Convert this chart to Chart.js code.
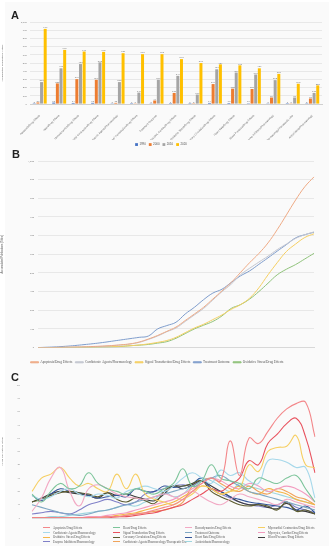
<!DOCTYPE html>
<html>
<head>
<meta charset="utf-8">
<script src="https://cdn.jsdelivr.net/npm/chart.js@4.4.1/dist/chart.umd.min.js"></script>
<style>
  body { margin: 0; background: #fff; width: 334px; height: 550px; position: relative; overflow: hidden; }
  canvas { position: absolute; left: 0; }
  .tag { position: absolute; font: bold 11px "Liberation Sans", Arial, sans-serif; color: #222; }
  #legendC { position: absolute; left: 43px; top: 527px; width: 290px; display: grid;
             grid-template-columns: 70px 72px 73px 75px; row-gap: 1.4px;
             font: 3.1px "Liberation Serif", "Times New Roman", serif; color: #555; }
  #legendC div { white-space: nowrap; line-height: 3.2px; }
  #legendC i { display: inline-block; width: 7px; height: 1px; margin: 0 3px 0.8px 0; vertical-align: middle; }
</style>
</head>
<body>
<canvas id="chartA" style="top:0px"></canvas>
<canvas id="chartB" style="top:152px"></canvas>
<canvas id="chartC" style="top:370px"></canvas>
<div id="legendC"></div>
<div class="tag" style="left:11px;top:9px">A</div>
<div class="tag" style="left:12px;top:148px">B</div>
<div class="tag" style="left:11px;top:371px">C</div>
<script>
// topics (same order in panel A and panel C)
var topics = [
    "Apoptosis/Drug Effects",
    "Heart/Drug Effects",
    "Hemodynamics/Drug Effects",
    "Myocardial Contraction/Drug Effects",
    "Cardiotonic Agents/Pharmacology",
    "Signal Transduction/Drug Effects",
    "Treatment Outcome",
    "Myocytes, Cardiac/Drug Effects",
    "Oxidative Stress/Drug Effects",
    "Coronary Circulation/Drug Effects",
    "Heart Rate/Drug Effects",
    "Blood Pressure/Drug Effects",
    "Enzyme Inhibitors/Pharmacology",
    "Cardiotonic Agents/Pharmacology/Therapeutic Use",
    "Antioxidants/Pharmacology"
];

// panel A: accumulated publications at four years
var snapYears = ["1990", "2000", "2010", "2020"];
var acc1990 = [2, 18, 14, 15, 3, 1, 3, 1, 1, 14, 13, 10, 3, 1, 2];
var acc2000 = [20, 252, 304, 296, 15, 3, 44, 136, 2, 244, 188, 184, 80, 3, 68];
var acc2010 = [268, 436, 488, 508, 268, 140, 296, 344, 116, 424, 384, 360, 292, 80, 136];
var acc2020 = [916, 660, 640, 636, 620, 608, 608, 548, 500, 484, 472, 436, 368, 248, 228];

// years for panels B and C
var years = [];
for (var y = 1990; y <= 2020; y++) years.push(String(y));

// panel B: accumulated publications, top five topics
var cumApoptosis = [0, 0, 1, 2, 3, 4, 6, 8, 11, 15, 20, 30, 46, 65, 87, 110, 145, 180, 216, 260, 304, 349, 402, 455, 504, 561, 632, 711, 791, 862, 915];
var cumCardiotonic = [0, 0, 1, 1, 2, 3, 5, 7, 10, 14, 19, 28, 44, 62, 85, 105, 140, 175, 210, 255, 300, 340, 390, 425, 458, 490, 525, 555, 585, 605, 620];
var cumSignal = [0, 0, 0, 1, 1, 2, 3, 4, 5, 7, 10, 14, 20, 28, 38, 55, 80, 105, 125, 150, 175, 205, 230, 265, 320, 390, 455, 515, 555, 590, 610];
var cumOutcome = [0, 2, 4, 7, 11, 16, 21, 27, 34, 41, 48, 55, 62, 100, 118, 136, 180, 216, 257, 292, 313, 349, 384, 411, 446, 481, 517, 552, 588, 605, 618];
var cumOxidative = [0, 0, 0, 0, 1, 1, 2, 3, 4, 6, 10, 13, 17, 24, 32, 50, 75, 100, 120, 140, 170, 210, 230, 260, 300, 345, 390, 420, 445, 475, 505];

// panel C: annual publications per topic
var annApoptosis = [0, 0, 0, 0, 0, 0, 0, 0, 1, 1, 2, 3, 4, 6, 8, 10, 14, 20, 26, 30, 28, 58, 32, 60, 56, 65, 75, 82, 86, 87, 61];
var annHeart = [18, 12, 20, 26, 22, 24, 34, 26, 22, 20, 18, 22, 20, 18, 22, 26, 37, 24, 28, 40, 30, 28, 26, 22, 30, 28, 26, 30, 32, 22, 12];
var annHemodynamics = [5, 15, 30, 38, 20, 9, 22, 25, 22, 18, 16, 15, 14, 16, 18, 16, 14, 20, 16, 12, 10, 14, 18, 16, 14, 12, 10, 14, 12, 10, 8];
var annContraction = [20, 30, 33, 38, 30, 24, 26, 22, 20, 33, 22, 33, 18, 14, 12, 10, 14, 18, 24, 22, 18, 20, 22, 40, 35, 50, 53, 54, 62, 40, 38];
var annCardiotonic = [17, 14, 16, 20, 22, 18, 16, 18, 17, 15, 20, 22, 24, 22, 20, 24, 30, 34, 30, 26, 36, 32, 34, 28, 26, 43, 44, 42, 38, 38, 15];
var annSignal = [0, 0, 0, 0, 0, 0, 0, 0, 0, 1, 1, 2, 3, 4, 6, 8, 10, 14, 18, 22, 20, 25, 30, 43, 40, 56, 63, 71, 75, 61, 34];
var annOutcome = [10, 8, 6, 4, 3, 2, 3, 5, 6, 8, 10, 12, 14, 16, 18, 20, 22, 24, 28, 30, 32, 28, 24, 20, 18, 16, 14, 12, 10, 8, 6];
var annMyocytes = [0, 0, 0, 0, 0, 0, 1, 1, 2, 3, 4, 6, 8, 10, 12, 14, 18, 22, 26, 30, 28, 24, 22, 26, 24, 20, 22, 24, 22, 18, 12];
var annOxidative = [0, 0, 0, 0, 0, 0, 0, 1, 1, 2, 3, 4, 6, 8, 10, 12, 16, 20, 24, 22, 18, 20, 24, 20, 18, 22, 20, 18, 14, 12, 10];
var annCoronary = [12, 14, 17, 19, 20, 19, 18, 16, 19, 14, 12, 15, 13, 11, 20, 24, 24, 26, 28, 20, 16, 13, 10, 9, 10, 9, 6, 12, 5, 6, 3];
var annHeartRate = [17, 13, 18, 22, 20, 19, 17, 15, 16, 17, 16, 22, 20, 20, 24, 23, 24, 26, 30, 22, 20, 16, 14, 12, 11, 10, 9, 8, 6, 9, 4];
var annBloodPressure = [12, 15, 18, 20, 19, 18, 17, 15, 19, 17, 18, 16, 14, 13, 18, 24, 22, 25, 28, 24, 20, 16, 12, 10, 10, 8, 7, 11, 6, 5, 3];
var annEnzyme = [3, 4, 5, 4, 3, 6, 10, 12, 14, 12, 10, 12, 18, 20, 22, 24, 25, 24, 28, 22, 18, 15, 12, 10, 9, 8, 10, 12, 8, 6, 4];
var annTherapeutic = [0, 0, 0, 0, 0, 0, 0, 1, 1, 1, 2, 3, 4, 5, 6, 8, 12, 24, 28, 30, 26, 22, 20, 24, 20, 18, 22, 20, 16, 14, 10];
var annAntioxidants = [0, 0, 1, 1, 2, 3, 4, 5, 6, 8, 10, 9, 12, 14, 20, 16, 18, 25, 30, 28, 24, 20, 26, 24, 22, 20, 18, 16, 14, 12, 10];

var annualSeries = [annApoptosis, annHeart, annHemodynamics, annContraction, annCardiotonic,
    annSignal, annOutcome, annMyocytes, annOxidative, annCoronary, annHeartRate,
    annBloodPressure, annEnzyme, annTherapeutic, annAntioxidants];
var annualColors = ["#f3878a", "#7cc49a", "#f2a9c4", "#f6cf63", "#a6d8ea",
    "#e8525e", "#7fa7c4", "#f39bbf", "#f5b548", "#5b5b2e", "#34559a",
    "#3c3c3c", "#8080c8", "#f0a35a", "#9fd6df"];

var serif = '"Liberation Serif", "Times New Roman", serif';
var sans = '"Liberation Sans", Arial, sans-serif';

// paints a faint panel background behind each chart
const panelBg = {
    id: 'panelBg',
    beforeDraw(chart) {
        const ctx = chart.ctx;
        ctx.save();
        ctx.fillStyle = '#fafafa';
        ctx.fillRect(5, 2, chart.width - 10, chart.height - 4);
        ctx.restore();
    }
};

// value labels above the bars of panel A
const barValueLabels = {
    id: 'barValueLabels',
    afterDatasetsDraw(chart) {
        const ctx = chart.ctx;
        ctx.save();
        ctx.font = '2.5px ' + sans;
        ctx.fillStyle = '#777';
        ctx.textAlign = 'center';
        chart.data.datasets.forEach(function (ds, i) {
            chart.getDatasetMeta(i).data.forEach(function (bar, j) {
                ctx.fillText(ds.data[j], bar.x, bar.y - 1.5);
            });
        });
        ctx.restore();
    }
};

function sizeCanvas(id, w, h) {
    var c = document.getElementById(id);
    c.width = w; c.height = h;
    c.style.width = w + 'px'; c.style.height = h + 'px';
    return c.getContext('2d');
}

// ---------- panel A ----------
var ctxA = sizeCanvas('chartA', 334, 156);
new Chart(ctxA, {
    type: 'bar',
    data: {
        labels: topics,
        datasets: [
            { label: snapYears[0], data: acc1990, backgroundColor: '#4472c4' },
            { label: snapYears[1], data: acc2000, backgroundColor: '#ed7d31' },
            { label: snapYears[2], data: acc2010, backgroundColor: '#a5a5a5' },
            { label: snapYears[3], data: acc2020, backgroundColor: '#ffc000' }
        ]
    },
    options: {
        responsive: false,
        animation: false,
        layout: { padding: { top: 22, right: 12, left: 0, bottom: 0 } },
        datasets: { bar: { categoryPercentage: 0.75, barPercentage: 0.82 } },
        plugins: {
            legend: {
                position: 'bottom',
                labels: { boxWidth: 2.8, boxHeight: 2.8, padding: 3, font: { size: 2.9, family: sans }, color: '#555' }
            },
            tooltip: { enabled: false }
        },
        scales: {
            x: {
                grid: { display: false },
                border: { color: '#d0d0d0' },
                ticks: { autoSkip: false, maxRotation: 45, minRotation: 45, font: { size: 2.7, family: sans }, color: '#666', padding: 2 },
                afterFit: function (s) { s.height = 36; }
            },
            y: {
                min: 0, max: 1000,
                ticks: { stepSize: 100, font: { size: 2.5, family: sans }, color: '#777', padding: 3 },
                grid: { color: '#e8e8e8', drawTicks: false },
                border: { display: false },
                title: { display: true, text: 'Accumulated Publications (Titles)', font: { size: 2.5, family: sans }, color: '#666', padding: 1 },
                afterFit: function (s) { s.width = 30; }
            }
        }
    },
    plugins: [panelBg, barValueLabels]
});

// ---------- panel B ----------
var ctxB = sizeCanvas('chartB', 334, 222);
function lineB(label, data, color) {
    return { label: label, data: data, borderColor: color, backgroundColor: color, borderWidth: 1, pointRadius: 0, tension: 0.4, fill: false };
}
new Chart(ctxB, {
    type: 'line',
    data: {
        labels: years,
        datasets: [
            lineB("Apoptosis/Drug Effects", cumApoptosis, '#eeaa85'),
            lineB("Cardiotonic Agents/Pharmacology", cumCardiotonic, '#c3c6d0'),
            lineB("Signal Transduction/Drug Effects", cumSignal, '#f5cf63'),
            lineB("Treatment Outcome", cumOutcome, '#7f9dcc'),
            lineB("Oxidative Stress/Drug Effects", cumOxidative, '#8fc27a')
        ]
    },
    options: {
        responsive: false,
        animation: false,
        layout: { padding: { top: 9, right: 20, left: 0, bottom: 0 } },
        plugins: {
            legend: {
                position: 'bottom',
                labels: { boxWidth: 8, boxHeight: 1, padding: 3, font: { size: 3.4, family: serif }, color: '#555' }
            },
            tooltip: { enabled: false }
        },
        scales: {
            x: {
                grid: { display: false },
                border: { color: '#d8d8d8' },
                ticks: { autoSkip: false, maxRotation: 0, font: { size: 2.6, family: serif }, color: '#666', padding: 3 },
                afterFit: function (s) { s.height = 10; }
            },
            y: {
                min: 0, max: 1000,
                ticks: { stepSize: 100, font: { size: 2.6, family: serif }, color: '#777', padding: 4 },
                grid: { color: '#e8e8e8', drawTicks: false },
                border: { display: false },
                title: { display: true, text: 'Accumulated Publications (Titles)', font: { size: 2.6, family: sans }, color: '#555', padding: 1 },
                afterFit: function (s) { s.width = 38; }
            }
        }
    },
    plugins: [panelBg]
});

// ---------- panel C ----------
var ctxC = sizeCanvas('chartC', 334, 178);
var cSets = topics.map(function (t, i) {
    return { label: t, data: annualSeries[i], borderColor: annualColors[i], backgroundColor: annualColors[i], borderWidth: 1.1, pointRadius: 0, tension: 0.45, fill: false };
});
var chartC = new Chart(ctxC, {
    type: 'line',
    data: { labels: years, datasets: cSets },
    options: {
        responsive: false,
        animation: false,
        layout: { padding: { top: 15, right: 19, left: 0, bottom: 24 } },
        plugins: {
            legend: { display: false },
            tooltip: { enabled: false }
        },
        scales: {
            x: {
                grid: { display: false },
                border: { color: '#d8d8d8' },
                ticks: { autoSkip: false, maxRotation: 0, font: { size: 2.2, family: serif }, color: '#666', padding: 2 },
                afterFit: function (s) { s.height = 6; }
            },
            y: {
                min: 0, max: 100,
                ticks: { stepSize: 10, font: { size: 2.4, family: serif }, color: '#777', padding: 4 },
                grid: { display: false },
                border: { display: false },
                title: { display: true, text: 'Annual Publications (Titles)', font: { size: 2.4, family: sans }, color: '#555', padding: 1 },
                afterFit: function (s) { s.width = 32; }
            }
        }
    },
    plugins: [panelBg]
});

// legend of panel C laid out in four columns, built from the chart's own legend items
var legendItems = Chart.defaults.plugins.legend.labels.generateLabels(chartC);
var legendBox = document.getElementById('legendC');
legendItems.forEach(function (item) {
    var row = document.createElement('div');
    var swatch = document.createElement('i');
    swatch.style.background = item.strokeStyle;
    row.appendChild(swatch);
    row.appendChild(document.createTextNode(item.text));
    legendBox.appendChild(row);
});
</script>
</body>
</html>
